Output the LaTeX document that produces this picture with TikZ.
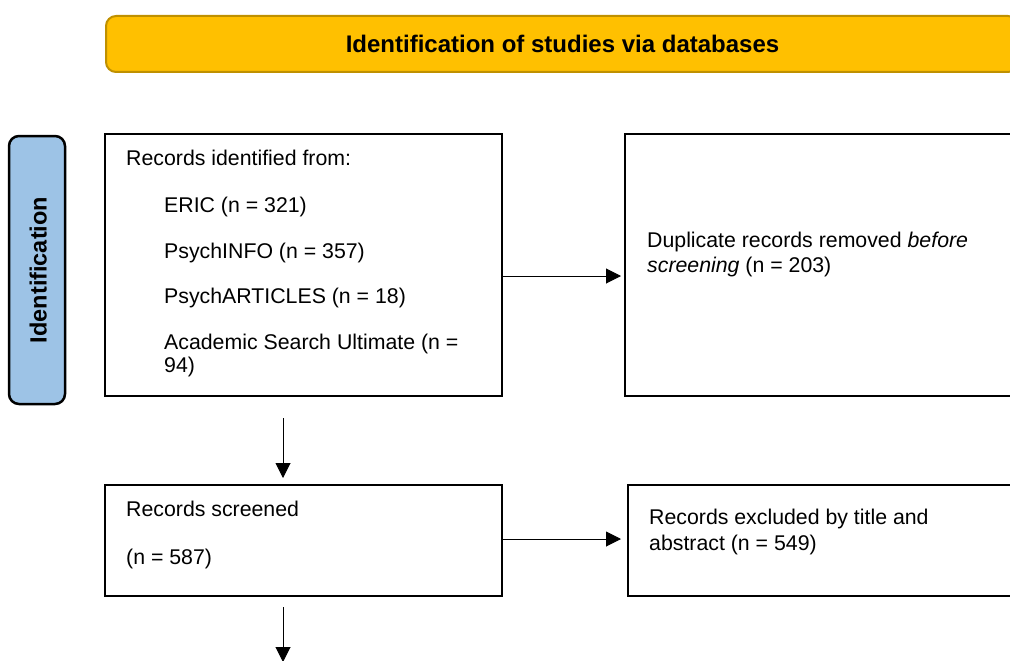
\documentclass[tikz,border=0pt]{standalone}
\usepackage{fontspec}
\setmainfont{Liberation Sans}
\usetikzlibrary{arrows.meta}
\definecolor{bannerfill}{HTML}{FFC000}
\definecolor{bannerdraw}{HTML}{BF9000}
\definecolor{phasefill}{HTML}{9DC3E6}
\begin{document}
\begin{tikzpicture}[x=1pt,y=-1pt,
  box/.style={draw=black,line width=2pt,fill=white,inner sep=0pt},
  txt/.style={anchor=base west,inner sep=0pt,font=\fontsize{21.3}{23}\selectfont},
  arr/.style={line width=1pt,-{Triangle[length=15pt,width=15pt]}}]
\useasboundingbox (0,0) rectangle (1010,661);
\clip (0,0) rectangle (1010,661);
% banner
\node[draw=bannerdraw,fill=bannerfill,line width=2pt,rounded corners=10pt,minimum width=912pt,minimum height=56pt,inner sep=0pt] (banner) at (562,44) {};
\node[anchor=base,inner sep=0pt,font=\bfseries\fontsize{24}{26}\selectfont] (bannertext) at (562.5,53) {Identification of studies via databases};
% phase label
\node[draw=black,fill=phasefill,line width=2.5pt,rounded corners=10pt,minimum width=56pt,minimum height=268pt,inner sep=0pt] (phase) at (37,270) {};
\node[rotate=90,anchor=base,inner sep=0pt,font=\bfseries\fontsize{23.5}{25}\selectfont] (phasetext) at (46.5,270) {Identification};
% boxes
\node[box,minimum width=397pt,minimum height=262pt] (b1) at (303.5,265) {};
\node[box,minimum width=397pt,minimum height=262pt] (b2) at (823.5,265) {};
\node[box,minimum width=397pt,minimum height=111pt] (b3) at (303.5,540.5) {};
\node[box,minimum width=397pt,minimum height=111pt] (b4) at (826.5,540.5) {};
% texts
\node[txt] (t1) at (126,165) {Records identified from:};
\node[txt] (t2) at (164,212) {ERIC (n = 321)};
\node[txt] (t3) at (164,258) {PsychINFO (n = 357)};
\node[txt] (t4) at (164,303) {PsychARTICLES (n = 18)};
\node[txt] (t5) at (164,349) {Academic Search Ultimate (n =};
\node[txt] (t6) at (164,372.5) {94)};
\node[txt] (t7) at (647,247) {Duplicate records removed \textit{before}};
\node[txt] (t8) at (647,272) {\textit{screening} (n = 203)};
\node[txt] (t9) at (126,516) {Records screened};
\node[txt] (t10) at (126,564) {(n = 587)};
\node[txt] (t11) at (649,524) {Records excluded by title and};
\node[txt] (t12) at (649,550) {abstract (n = 549)};
% arrows
\coordinate (a1) at (621,276);
\draw[arr] (a1 -| b1.east) -- (a1);
\coordinate (a2) at (621,539);
\draw[arr] (a2 -| b3.east) -- (a2);
\coordinate (d1s) at (283,418);
\coordinate (d1e) at (283,478);
\draw[arr] (d1s) -- (d1e);
\coordinate (d2s) at (283,607);
\coordinate (d2e) at (283,662);
\draw[arr] (d2s) -- (d2e);
\end{tikzpicture}
\end{document}
